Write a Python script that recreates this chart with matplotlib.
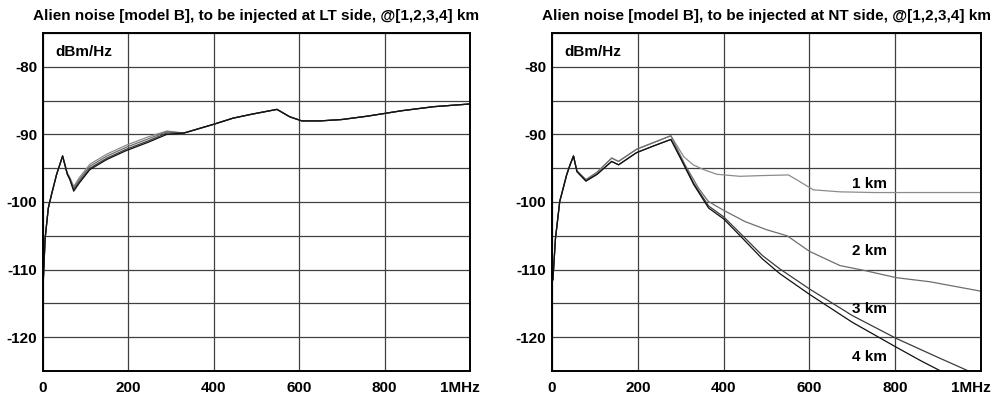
import matplotlib.pyplot as plt
from matplotlib.transforms import ScaledTranslation

plt.rcParams['font.family'] = ['Liberation Sans', 'DejaVu Sans']
plt.rcParams['font.weight'] = 'bold'
plt.rcParams['font.size'] = 11
plt.rcParams['axes.unicode_minus'] = False

# LT side: frequency [kHz] and noise PSD [dBm/Hz], curves merge above ~330 kHz
lt_f = [1, 5, 12.5, 20, 32, 46, 57, 63, 72, 85, 110, 150, 195, 245, 290,
        330, 400, 445, 490, 548, 578, 606, 650, 700, 760, 840, 915, 1000]
lt_tail = [-89.8, -88.5, -87.6, -87.0, -86.3, -87.4, -88.0, -88.0, -87.8,
           -87.3, -86.5, -85.9, -85.5]
lt_1km = [-111.3, -105.4, -100.9, -98.9, -95.9, -93.2, -95.7, -96.4, -97.7,
          -96.4, -94.4, -92.9, -91.6, -90.4, -89.5] + lt_tail
lt_2km = [-111.3, -105.4, -100.9, -98.9, -95.9, -93.2, -95.8, -96.5, -97.9,
          -96.7, -94.7, -93.2, -91.9, -90.7, -89.6] + lt_tail
lt_3km = [-111.3, -105.4, -100.9, -98.9, -95.9, -93.2, -95.9, -96.6, -98.2,
          -97.0, -95.0, -93.5, -92.2, -91.0, -89.8] + lt_tail
lt_4km = [-111.3, -105.4, -100.9, -98.9, -95.9, -93.2, -95.9, -96.7, -98.4,
          -97.2, -95.2, -93.7, -92.4, -91.2, -90.0] + lt_tail

# NT side: common rise up to the ~277 kHz peak, then each length rolls off
nt_f_head = [2, 8, 18, 23, 34, 42, 50, 58, 79, 105, 139, 155, 197, 237, 277]
nt_head_dark = [-111.5, -105.4, -99.9, -98.7, -96.0, -94.5, -93.2, -95.5,
                -96.9, -95.9, -94.0, -94.5, -92.7, -91.7, -90.75]
nt_head_light = [-111.5, -105.4, -99.9, -98.7, -96.0, -94.5, -93.2, -95.4,
                 -96.7, -95.6, -93.5, -94.0, -92.2, -91.2, -90.2]

nt_f_1km = [307, 329, 353, 384, 438, 485, 551, 570, 609, 672, 750, 850, 1000]
nt_1km = [-93.3, -94.5, -95.2, -95.9, -96.2, -96.1, -96.0, -96.7, -98.2,
          -98.5, -98.6, -98.6, -98.6]
nt_f_2km = [310, 341, 364, 399, 450, 500, 548, 600, 671, 726, 803, 881, 1000]
nt_2km = [-94.5, -97.9, -99.9, -101.2, -102.9, -104.1, -105.0, -107.3,
          -109.4, -110.1, -111.2, -111.8, -113.2]
nt_f_3km = [300, 330, 365, 400, 443, 490, 531, 601, 700, 803, 900, 978]
nt_3km = [-93.5, -97.2, -100.6, -102.2, -104.9, -107.9, -109.9, -112.9,
          -116.8, -120.2, -123.0, -125.2]
nt_f_4km = [300, 330, 365, 400, 443, 490, 531, 601, 700, 803, 860, 912]
nt_4km = [-93.6, -97.4, -100.9, -102.5, -105.3, -108.4, -110.6, -113.7,
          -117.8, -121.5, -123.5, -125.2]

km_labels = ['1 km', '2 km', '3 km', '4 km']
km_label_y = [-97.4, -107.3, -115.9, -122.9]
colors = ['#8c8c8c', '#6e6e6e', '#3c3c3c', '#111111']

fig = plt.figure(figsize=(9.97, 3.97), dpi=100)
ax1 = fig.add_axes([0.0431, 0.0655, 0.4283, 0.8514])
ax2 = fig.add_axes([0.5537, 0.0655, 0.4303, 0.8514])

for vals, c in zip([lt_1km, lt_2km, lt_3km, lt_4km], colors):
    ax1.plot(lt_f, vals, color=c, lw=0.9)

nt_curves = [(nt_f_1km, nt_1km, nt_head_light), (nt_f_2km, nt_2km, nt_head_light),
             (nt_f_3km, nt_3km, nt_head_dark), (nt_f_4km, nt_4km, nt_head_dark)]
for (f, v, head), c in zip(nt_curves, colors):
    ax2.plot(nt_f_head + f, head + v, color=c, lw=0.9)

for lab, y in zip(km_labels, km_label_y):
    ax2.text(781, y, lab, ha='right', va='center')

titles = ['Alien noise [model B], to be injected at LT side, @[1,2,3,4] km',
          'Alien noise [model B], to be injected at NT side, @[1,2,3,4] km']
for ax, title in zip([ax1, ax2], titles):
    ax.set_xlim(0, 1000)
    ax.set_ylim(-125, -75)
    ax.set_xticks([0, 200, 400, 600, 800, 1000])
    ax.set_xticklabels(['0', '200', '400', '600', '800', '1MHz'])
    ax.set_yticks([-80, -90, -100, -110, -120])
    ax.set_yticks(range(-125, -74, 5), minor=True)
    ax.tick_params(which='both', length=0)
    ax.tick_params(axis='x', pad=7)
    ax.tick_params(axis='y', pad=4)
    ax.grid(True, which='both', color='#404040', lw=0.9)
    ax.set_axisbelow(True)
    for s in ax.spines.values():
        s.set_linewidth(1.4)
    ax.set_title(title, fontsize=11, fontweight='bold', pad=9)
    ax.text(0.028, 0.945, 'dBm/Hz', transform=ax.transAxes, ha='left', va='center')
    last = ax.get_xticklabels()[-1]
    last.set_transform(last.get_transform() + ScaledTranslation(-7 / 72, 0, fig.dpi_scale_trans))

fig.savefig('out.png', dpi=100)
